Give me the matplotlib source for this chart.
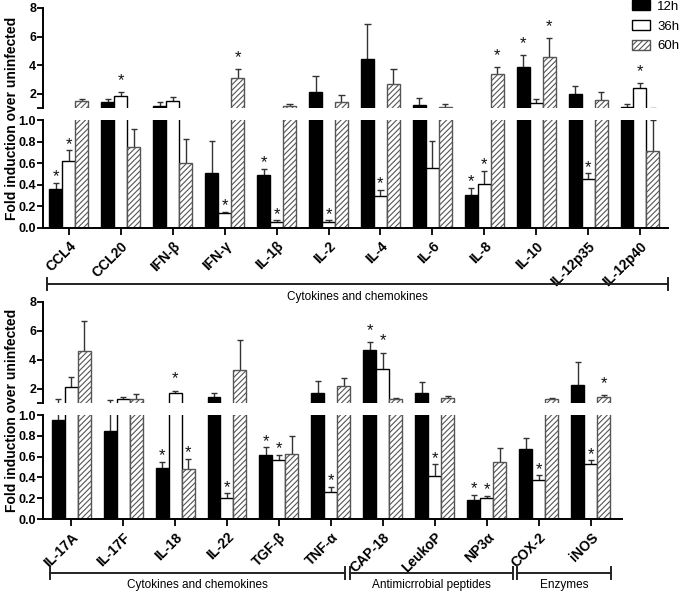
import numpy as np
import matplotlib
matplotlib.use("Agg")
import matplotlib.pyplot as plt
from matplotlib.patches import Patch
import matplotlib.transforms as mtransforms

plt.rcParams['font.family'] = ['Liberation Sans', 'DejaVu Sans']
plt.rcParams['hatch.linewidth'] = 0.8

# ---- data: top panel ----
genes_top = ['CCL4', 'CCL20', 'IFN-β', 'IFN-γ', 'IL-1β', 'IL-2', 'IL-4',
             'IL-6', 'IL-8', 'IL-10', 'IL-12p35', 'IL-12p40']
top_12h = [0.36, 1.39, 1.16, 0.51, 0.49, 2.09, 4.43, 1.19, 0.31, 3.86, 1.98, 1.05]
top_12h_err = [0.06, 0.24, 0.23, 0.30, 0.06, 1.15, 2.47, 0.51, 0.065, 0.84, 0.53, 0.25]
top_36h = [0.62, 1.86, 1.51, 0.14, 0.06, 0.06, 0.30, 0.56, 0.41, 1.32, 0.455, 2.40]
top_36h_err = [0.10, 0.23, 0.26, 0.01, 0.01, 0.01, 0.055, 0.245, 0.12, 0.31, 0.05, 0.35]
top_60h = [1.51, 0.75, 0.605, 3.10, 1.12, 1.42, 2.68, 1.10, 3.35, 4.54, 1.58, 0.715]
top_60h_err = [0.14, 0.17, 0.215, 0.62, 0.18, 0.46, 1.05, 0.18, 0.49, 1.36, 0.51, 0.285]
top_sig_12h = [1, 0, 0, 0, 1, 0, 0, 0, 1, 1, 0, 0]
top_sig_36h = [1, 1, 0, 1, 1, 1, 1, 0, 1, 0, 1, 1]
top_sig_60h = [0, 0, 0, 1, 0, 0, 0, 0, 1, 1, 0, 0]

# ---- data: bottom panel ----
genes_bot = ['IL-17A', 'IL-17F', 'IL-18', 'IL-22', 'TGF-β', 'TNF-α',
             'CAP-18', 'LeukoP', 'NP3α', 'COX-2', 'iNOS']
bot_12h = [0.95, 0.846, 0.49, 1.40, 0.615, 1.67, 4.69, 1.72, 0.183, 0.673, 2.28]
bot_12h_err = [0.33, 0.35, 0.06, 0.30, 0.075, 0.83, 0.51, 0.77, 0.047, 0.107, 1.59]
bot_36h = [2.09, 1.30, 1.70, 0.205, 0.567, 0.257, 3.37, 0.417, 0.20, 0.372, 0.525]
bot_36h_err = [0.69, 0.15, 0.16, 0.042, 0.048, 0.053, 1.11, 0.108, 0.025, 0.048, 0.04]
bot_60h = [4.59, 1.25, 0.48, 3.30, 0.625, 2.21, 1.26, 1.33, 0.55, 1.25, 1.42]
bot_60h_err = [2.08, 0.35, 0.097, 2.08, 0.175, 0.53, 0.11, 0.14, 0.136, 0.10, 0.14]
bot_sig_12h = [0, 0, 1, 0, 1, 0, 1, 0, 1, 0, 0]
bot_sig_36h = [0, 0, 1, 1, 1, 1, 1, 1, 1, 1, 1]
bot_sig_60h = [0, 0, 1, 0, 0, 0, 0, 0, 0, 0, 1]

groups_top = [('Cytokines and chemokines', -0.42, 11.54)]
groups_bot = [('Cytokines and chemokines', -0.40, 5.27),
              ('Antimicrrobial peptides', 5.36, 8.50),
              ('Enzymes', 8.58, 10.38)]

series = ['12h', '36h', '60h']
styles = [dict(facecolor='black', edgecolor='black', hatch=None),
          dict(facecolor='white', edgecolor='black', hatch=None),
          dict(facecolor='white', edgecolor='#555555', hatch='//////')]

W, H = 685, 591
fig = plt.figure(figsize=(W / 100, H / 100), dpi=100)


def px_axes(x0, x1, y0, y1):
    ax = fig.add_axes([x0 / W, 1 - y1 / H, (x1 - x0) / W, (y1 - y0) / H])
    ax.patch.set_visible(False)
    return ax


def draw_panel(ax_hi, ax_lo, genes, vals, errs, sigs, xlim, groups):
    x = np.arange(len(genes))
    w = 0.25
    for k in range(3):
        xs = x + (k - 1) * w
        v = np.array(vals[k])
        e = np.array(errs[k])
        for ax in (ax_hi, ax_lo):
            ax.bar(xs, v, w, linewidth=1.0, zorder=2, **styles[k])
            ax.vlines(xs, v, v + e, color='#333333', linewidth=1.0, zorder=1)
            ax.hlines(v + e, xs - 0.06, xs + 0.06, color='#333333', linewidth=1.0, zorder=1)
        for i in range(len(genes)):
            if sigs[k][i]:
                top = v[i] + e[i]
                if top >= 1:
                    ax_hi.annotate('*', (xs[i], top), xytext=(0, 3), textcoords='offset points',
                                   ha='center', va='bottom', fontsize=12, color='#111111')
                else:
                    ax_lo.annotate('*', (xs[i], top), xytext=(0, -1), textcoords='offset points',
                                   ha='center', va='bottom', fontsize=12, color='#111111')

    for ax in (ax_hi, ax_lo):
        ax.set_xlim(*xlim)
        ax.spines['top'].set_visible(False)
        ax.spines['right'].set_visible(False)
        ax.spines['left'].set_linewidth(1.4)
        ax.spines['bottom'].set_linewidth(1.4)
        ax.tick_params(axis='y', length=4, width=1.3, labelsize=9, pad=1)

    ax_hi.set_ylim(1, 8)
    ax_hi.set_yticks([1, 2, 4, 6, 8])
    ax_hi.set_yticklabels(['', '2', '4', '6', '8'], fontweight='bold')
    ax_hi.spines['bottom'].set_visible(False)
    ax_hi.set_xticks([])

    ax_lo.set_ylim(0, 1)
    ax_lo.set_yticks([0, 0.2, 0.4, 0.6, 0.8, 1.0])
    ax_lo.set_yticklabels(['0.0', '0.2', '0.4', '0.6', '0.8', '1.0'], fontweight='bold')
    ax_lo.set_xticks(x)
    ax_lo.set_xticklabels(genes, rotation=45, ha='right', va='top', rotation_mode='anchor',
                          fontsize=10, fontweight='bold')
    ax_lo.tick_params(axis='x', length=5, width=1.3, pad=3)

    # category brackets under the tick labels
    tr = mtransforms.blended_transform_factory(ax_lo.transData, ax_lo.transAxes)
    for label, a, b in groups:
        ax_lo.plot([a, b], [-0.52, -0.52], color='#222222', lw=1.4, transform=tr, clip_on=False)
        for xe in (a, b):
            ax_lo.plot([xe, xe], [-0.465, -0.575], color='#222222', lw=1.4,
                       transform=tr, clip_on=False)
        ax_lo.text((a + b) / 2, -0.635, label, transform=tr, ha='center', va='center',
                   fontsize=8.5)


ax1_hi = px_axes(43, 668, 8, 108)
ax1_lo = px_axes(43, 668, 120, 228)
draw_panel(ax1_hi, ax1_lo, genes_top,
           [top_12h, top_36h, top_60h],
           [top_12h_err, top_36h_err, top_60h_err],
           [top_sig_12h, top_sig_36h, top_sig_60h],
           (-0.5, 11.54), groups_top)

ax2_hi = px_axes(43, 622, 302, 403)
ax2_lo = px_axes(43, 622, 415, 519)
draw_panel(ax2_hi, ax2_lo, genes_bot,
           [bot_12h, bot_36h, bot_60h],
           [bot_12h_err, bot_36h_err, bot_60h_err],
           [bot_sig_12h, bot_sig_36h, bot_sig_60h],
           (-0.54, 10.6), groups_bot)

for yc in (118, 410):
    fig.text(12 / W, 1 - yc / H, 'Fold induction over uninfected', rotation=90,
             ha='center', va='center', fontsize=10, fontweight='bold')

handles = [Patch(linewidth=1.0, label=s, **st) for s, st in zip(series, styles)]
fig.legend(handles=handles, loc='upper left', bbox_to_anchor=(632 / W, 1.0),
           frameon=False, fontsize=9.5, handlelength=1.4, handleheight=0.8,
           handletextpad=0.5, labelspacing=0.55, borderaxespad=0, borderpad=0)

fig.savefig('out.png', dpi=100)
